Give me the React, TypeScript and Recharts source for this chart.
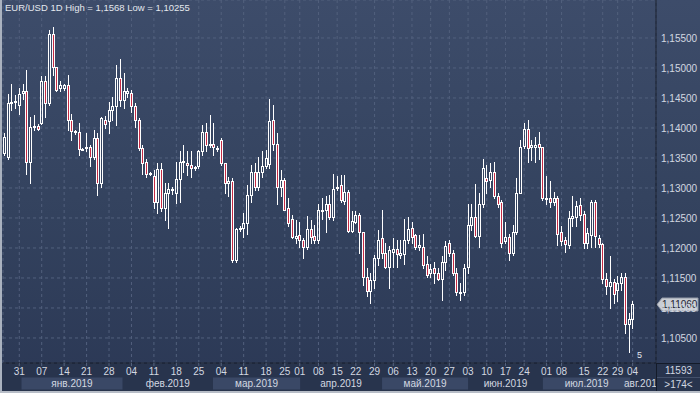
import React from 'react';
import { ComposedChart, Bar, XAxis, YAxis, CartesianGrid, ReferenceLine } from 'recharts';

// EUR/USD daily candles (oldest first)
const opens = [
  1.1358, 1.1352, 1.1442, 1.1443, 1.1438, 1.1459, 1.1462, 1.1344, 1.1401, 1.1404,
  1.1408, 1.1479, 1.1442, 1.1557, 1.1501, 1.1466, 1.1466, 1.1471, 1.1414, 1.1395,
  1.1393, 1.1365, 1.1366, 1.1369, 1.1352, 1.1383, 1.1308, 1.1414, 1.1411, 1.143,
  1.1436, 1.1484, 1.1447, 1.1458, 1.1458, 1.1437, 1.1413, 1.1367, 1.1343, 1.1325,
  1.132, 1.1277, 1.1331, 1.1266, 1.1291, 1.1296, 1.1291, 1.1315, 1.1343, 1.1342,
  1.1339, 1.1333, 1.1336, 1.1361, 1.1393, 1.1372, 1.1374, 1.1366, 1.138, 1.1341,
  1.1308, 1.1312, 1.118, 1.1231, 1.1234, 1.1242, 1.1288, 1.1327, 1.1302, 1.1326,
  1.1337, 1.134, 1.1414, 1.1373, 1.1301, 1.1313, 1.1266, 1.1249, 1.1216, 1.1222,
  1.1213, 1.1202, 1.1231, 1.122, 1.1214, 1.1261, 1.1263, 1.1273, 1.1252, 1.13,
  1.1305, 1.1278, 1.1294, 1.1229, 1.1244, 1.1255, 1.1226, 1.1152, 1.1129, 1.1147,
  1.1183, 1.1216, 1.1192, 1.1169, 1.1194, 1.1199, 1.1189, 1.119, 1.1213, 1.1234,
  1.1222, 1.1201, 1.1201, 1.1174, 1.1159, 1.1166, 1.1159, 1.1149, 1.1177, 1.1209,
  1.1191, 1.1158, 1.1127, 1.1126, 1.1169, 1.1238, 1.1251, 1.122, 1.1274, 1.1316,
  1.1314, 1.1327, 1.1287, 1.1276, 1.1211, 1.1219, 1.1192, 1.1226, 1.1292, 1.137,
  1.1399, 1.1369, 1.1369, 1.1373, 1.1369, 1.1281, 1.1284, 1.1277, 1.1284, 1.1226,
  1.1214, 1.1205, 1.125, 1.1252, 1.1272, 1.1257, 1.1209, 1.1222, 1.1277, 1.1216,
  1.1207, 1.1149, 1.1137, 1.1144, 1.113, 1.1142, 1.1152, 1.1073, 1.1081,
];
const highs = [
  1.1391, 1.1457, 1.1474, 1.1455, 1.1466, 1.1474, 1.1497, 1.1419, 1.1422, 1.1406,
  1.1486, 1.1486, 1.1563, 1.1568, 1.1501, 1.1478, 1.1474, 1.1488, 1.1424, 1.1396,
  1.1408, 1.1366, 1.1391, 1.1372, 1.1397, 1.1391, 1.1419, 1.142, 1.1444, 1.1452,
  1.1505, 1.1515, 1.1491, 1.1466, 1.1463, 1.1441, 1.1416, 1.1372, 1.1349, 1.1327,
  1.133, 1.1341, 1.1341, 1.1308, 1.1308, 1.1301, 1.1344, 1.1361, 1.1372, 1.1361,
  1.1361, 1.1337, 1.1364, 1.1405, 1.1408, 1.1422, 1.1408, 1.137, 1.1383, 1.1342,
  1.1319, 1.1316, 1.1233, 1.1236, 1.1258, 1.1305, 1.1338, 1.1341, 1.1352, 1.1361,
  1.1363, 1.1449, 1.1438, 1.1391, 1.133, 1.1316, 1.1283, 1.1255, 1.1247, 1.1244,
  1.1216, 1.1253, 1.1247, 1.1238, 1.1274, 1.1283, 1.1287, 1.1288, 1.1324, 1.132,
  1.1322, 1.1322, 1.1297, 1.1261, 1.1261, 1.1259, 1.1227, 1.1166, 1.1158, 1.1188,
  1.123, 1.1263, 1.1208, 1.1203, 1.1216, 1.1213, 1.1213, 1.1249, 1.1252, 1.1244,
  1.1224, 1.1222, 1.1223, 1.1187, 1.1174, 1.1177, 1.1166, 1.1186, 1.1211, 1.1214,
  1.1197, 1.1166, 1.1141, 1.1174, 1.1274, 1.1274, 1.1307, 1.1291, 1.1348, 1.1338,
  1.1341, 1.1344, 1.1291, 1.128, 1.1244, 1.1224, 1.1238, 1.1316, 1.138, 1.1408,
  1.1413, 1.138, 1.1385, 1.1394, 1.1369, 1.132, 1.1312, 1.1294, 1.1286, 1.1236,
  1.1219, 1.1262, 1.1286, 1.1279, 1.1283, 1.1261, 1.1233, 1.128, 1.128, 1.1222,
  1.1208, 1.1158, 1.1186, 1.1149, 1.1153, 1.1158, 1.1159, 1.1092, 1.1112,
];
const lows = [
  1.1355, 1.1349, 1.143, 1.1433, 1.1424, 1.1449, 1.1324, 1.1308, 1.1397, 1.1396,
  1.1407, 1.1419, 1.1438, 1.1488, 1.1461, 1.1462, 1.1464, 1.1397, 1.138, 1.139,
  1.1355, 1.1363, 1.1361, 1.1336, 1.1349, 1.1288, 1.1302, 1.14, 1.1391, 1.1413,
  1.1405, 1.1436, 1.1433, 1.1452, 1.1427, 1.1402, 1.1363, 1.1324, 1.1319, 1.1321,
  1.1266, 1.1258, 1.1261, 1.1247, 1.1233, 1.129, 1.1275, 1.1277, 1.1327, 1.1322,
  1.1319, 1.133, 1.1333, 1.1355, 1.1361, 1.1369, 1.1355, 1.1361, 1.1338, 1.1291,
  1.1286, 1.1177, 1.1177, 1.1229, 1.1219, 1.1224, 1.1277, 1.1297, 1.1297, 1.1319,
  1.1333, 1.1333, 1.1363, 1.1274, 1.1286, 1.1263, 1.1236, 1.1216, 1.1208, 1.1202,
  1.1183, 1.1198, 1.1208, 1.1208, 1.1208, 1.1249, 1.1227, 1.1249, 1.1247, 1.1297,
  1.1277, 1.1274, 1.1226, 1.1226, 1.1241, 1.1191, 1.1138, 1.112, 1.1109, 1.1133,
  1.1172, 1.1183, 1.1166, 1.1133, 1.1169, 1.1169, 1.1183, 1.1173, 1.1208, 1.1208,
  1.1199, 1.1197, 1.1166, 1.1152, 1.1152, 1.1141, 1.1147, 1.1113, 1.1163, 1.1186,
  1.1155, 1.1122, 1.1113, 1.1122, 1.1158, 1.123, 1.1218, 1.1202, 1.1269, 1.1291,
  1.1302, 1.1284, 1.1269, 1.1202, 1.1208, 1.118, 1.1188, 1.1224, 1.1291, 1.1366,
  1.1344, 1.1347, 1.1344, 1.1349, 1.128, 1.1274, 1.1269, 1.1272, 1.1205, 1.1205,
  1.1194, 1.12, 1.1236, 1.1236, 1.1247, 1.12, 1.12, 1.1202, 1.1201, 1.1202,
  1.1142, 1.1124, 1.11, 1.1108, 1.1111, 1.113, 1.1058, 1.1026, 1.1066,
];
const closes = [
  1.1385, 1.1441, 1.1444, 1.1445, 1.1457, 1.1461, 1.1344, 1.1402, 1.1404, 1.1398,
  1.1479, 1.1441, 1.1557, 1.1501, 1.1464, 1.1471, 1.1471, 1.1413, 1.1395, 1.1393,
  1.1365, 1.1364, 1.1369, 1.1352, 1.1383, 1.1308, 1.1416, 1.1407, 1.143, 1.1437,
  1.1484, 1.1447, 1.1462, 1.1462, 1.1437, 1.1413, 1.1367, 1.1341, 1.1323, 1.1323,
  1.1277, 1.1331, 1.1266, 1.1291, 1.1298, 1.1298, 1.1315, 1.1344, 1.1345, 1.1339,
  1.1333, 1.1335, 1.1361, 1.1393, 1.1372, 1.1374, 1.1368, 1.1366, 1.1341, 1.1308,
  1.1312, 1.118, 1.1231, 1.1234, 1.1242, 1.1288, 1.1327, 1.1302, 1.1326, 1.1337,
  1.135, 1.1412, 1.1373, 1.1301, 1.1313, 1.1263, 1.1241, 1.1219, 1.122, 1.1213,
  1.1202, 1.1231, 1.1219, 1.1214, 1.1263, 1.1263, 1.1273, 1.1252, 1.1298, 1.1302,
  1.128, 1.1294, 1.1229, 1.1245, 1.1255, 1.1226, 1.1152, 1.1129, 1.1147, 1.1183,
  1.1214, 1.1192, 1.1169, 1.1197, 1.1199, 1.119, 1.1192, 1.1213, 1.1231, 1.1219,
  1.1202, 1.1205, 1.1172, 1.1155, 1.1165, 1.1159, 1.1149, 1.1177, 1.1203, 1.1191,
  1.1158, 1.1127, 1.1126, 1.1166, 1.1238, 1.1251, 1.122, 1.1274, 1.1334, 1.1311,
  1.1327, 1.1287, 1.1274, 1.1208, 1.1218, 1.1192, 1.1226, 1.1291, 1.1369, 1.1399,
  1.1366, 1.1371, 1.1371, 1.1369, 1.1283, 1.1284, 1.1276, 1.1284, 1.1224, 1.1212,
  1.1207, 1.125, 1.1254, 1.127, 1.1255, 1.1209, 1.1225, 1.1277, 1.122, 1.1207,
  1.1149, 1.1137, 1.1144, 1.1124, 1.1142, 1.1152, 1.1073, 1.1081, 1.1106,
];

// weekly labels on the time axis (bar index of each labelled day)
const weekIdx = [4, 10, 16, 22, 28, 34, 40, 46, 52, 58, 64, 70, 75, 79, 84, 89, 94, 99, 104, 109, 114, 119, 124, 129, 134, 139, 145, 149, 155, 160, 164, 168];
const weekLabels = ['31', '07', '14', '21', '28', '04', '11', '18', '25', '04', '11', '18', '25', '01', '08', '15', '22', '29', '06', '13', '20', '27', '03', '10', '17', '24', '01', '08', '15', '22', '29', '04'];

const monthNames = ['янв.2019', 'фев.2019', 'мар.2019', 'апр.2019', 'май.2019', 'июн.2019', 'июл.2019', 'авг.2019'];
const monthStart = [4.6, 31.6, 55.8, 79.1, 101, 124, 144, 167.4];

const priceTicks = [1.105, 1.11, 1.115, 1.12, 1.125, 1.13, 1.135, 1.14, 1.145, 1.15, 1.155];

const W = 700;
const H = 393;
const AXIS_W = 44;
const PLOT_LEFT = 3;
const X_MIN = -0.35;
const X_MAX = 174.25;
const Y_MIN = 1.10083;
const Y_MAX = 1.16133;
const PX_PER_BAR = (W - AXIS_W - PLOT_LEFT) / (X_MAX - X_MIN);

const TEXT = '#d3d8e1';
const FONT = "'Liberation Sans', Arial, sans-serif";

const data = opens.map((o, i) => ({
  i,
  o,
  h: highs[i],
  l: lows[i],
  c: closes[i],
  range: [lows[i], highs[i]],
}));

const fmt = (v: number) => v.toFixed(5).replace('.', ',');

const Candle = (props: any) => {
  const { x, y, width, height, payload } = props;
  const top = Math.min(y, y + height);
  const bot = Math.max(y, y + height);
  const { o, h, l, c } = payload;
  const toY = (p: number) => (h === l ? top : top + ((h - p) / (h - l)) * (bot - top));
  const cx = Math.round(x + width / 2);
  const bTop = Math.round(toY(Math.max(o, c)));
  const bBot = Math.max(Math.round(toY(Math.min(o, c))), bTop + 1);
  const up = c >= o;
  return (
    <g>
      <line x1={cx + 0.5} x2={cx + 0.5} y1={Math.round(top)} y2={bTop} stroke="#ffffff" />
      <line x1={cx + 0.5} x2={cx + 0.5} y1={bBot + 1} y2={Math.round(bot) + 1} stroke="#ffffff" />
      <rect
        x={cx - 0.5}
        y={bTop + 0.5}
        width={2}
        height={bBot - bTop}
        fill={up ? 'none' : '#c52a44'}
        stroke="#ffffff"
      />
    </g>
  );
};

const MonthTick = (props: any) => {
  const { x, y, payload } = props;
  const k = monthStart.indexOf(payload.value);
  const end = k + 1 < monthStart.length ? monthStart[k + 1] : X_MAX;
  const w = (end - payload.value) * PX_PER_BAR;
  return (
    <g>
      {k % 2 === 0 && <rect x={x} y={y + 0.5} width={w} height={12} fill="#3a4866" />}
      <text x={x + w / 2} y={y + 9.5} textAnchor="middle" fontSize={10} fill={TEXT}>
        {monthNames[k]}
      </text>
    </g>
  );
};

const PriceTag = (props: any) => {
  const { viewBox } = props;
  const y = Math.round(viewBox.y) + 0.5;
  const x0 = viewBox.x + viewBox.width + 1;
  return (
    <g>
      <polygon
        points={`${x0},${y} ${x0 + 5},${y - 6.5} ${x0 + 41},${y - 6.5} ${x0 + 41},${y + 6.5} ${x0 + 5},${y + 6.5}`}
        fill="#c9cdd4"
        stroke="#9299a6"
      />
      <text x={x0 + 5} y={y + 3.5} fontSize={10} fill="#1c2333">
        {fmt(closes[closes.length - 1])}
      </text>
    </g>
  );
};

export default function App() {
  return (
    <div
      style={{
        position: 'relative',
        width: W,
        height: H,
        overflow: 'hidden',
        fontFamily: FONT,
        background: 'linear-gradient(to bottom, #3d4c6a 0%, #34435f 50%, #2b3855 100%)',
      }}
    >
      <style>{'body{margin:0}'}</style>
      <div style={{ position: 'absolute', left: 0, top: 363, width: W, height: 30, background: '#28344d' }} />
      <div style={{ position: 'absolute', left: 0, top: 0 }}>
        <ComposedChart width={W} height={H} data={data} margin={{ top: 0, right: 0, bottom: 0, left: PLOT_LEFT }}>
          <CartesianGrid stroke="#52607d" strokeDasharray="3 3" />
          <XAxis
            xAxisId={0}
            dataKey="i"
            type="number"
            domain={[X_MIN, X_MAX]}
            allowDataOverflow
            ticks={weekIdx}
            interval={0}
            tickFormatter={(v: number) => weekLabels[weekIdx.indexOf(v)]}
            height={14}
            tickSize={3}
            tickMargin={2}
            tickLine={{ stroke: '#56647f' }}
            axisLine={{ stroke: '#141b29' }}
            tick={{ fill: TEXT, fontSize: 10 }}
          />
          <XAxis
            xAxisId="m"
            dataKey="i"
            type="number"
            domain={[X_MIN, X_MAX]}
            allowDataOverflow
            ticks={monthStart}
            interval={0}
            height={16}
            axisLine={false}
            tickLine={false}
            tickSize={0}
            tickMargin={0}
            tick={<MonthTick />}
          />
          <YAxis
            orientation="right"
            type="number"
            domain={[Y_MIN, Y_MAX]}
            allowDataOverflow
            ticks={priceTicks}
            interval={0}
            width={AXIS_W}
            tickFormatter={fmt}
            axisLine={{ stroke: '#141b29' }}
            tickLine={false}
            tickSize={4}
            tickMargin={1}
            tick={{ fill: TEXT, fontSize: 10 }}
          />
          <Bar dataKey="range" barSize={3} shape={Candle} isAnimationActive={false} />
          <ReferenceLine
            y={closes[closes.length - 1]}
            stroke="none"
            ifOverflow="visible"
            label={(p: any) => <PriceTag {...p} />}
          />
        </ComposedChart>
      </div>
      <div style={{ position: 'absolute', left: 5, top: 2, fontSize: 9.5, color: '#e4e8ee' }}>
        EUR/USD 1D High = 1,1568 Low = 1,10255
      </div>
      <div style={{ position: 'absolute', left: 637, top: 350, fontSize: 9, color: '#e4e8ee' }}>5</div>
      <div
        style={{
          position: 'absolute',
          left: 656,
          top: 363,
          width: 44,
          height: 30,
          background: '#28344d',
          borderLeft: '1px solid #141b29',
          borderTop: '1px solid #141b29',
          boxSizing: 'border-box',
          color: TEXT,
          fontSize: 10,
          textAlign: 'center',
          lineHeight: '13px',
        }}
      >
        <div style={{ borderBottom: '1px solid #43506a' }}>11593</div>
        <div>&gt;174&lt;</div>
      </div>
      <div style={{ position: 'absolute', left: 0, top: 0, width: 2, height: H, background: '#aab2bf' }} />
      <div style={{ position: 'absolute', left: 0, top: H - 2, width: W, height: 2, background: '#b7bdc7' }} />
    </div>
  );
}
